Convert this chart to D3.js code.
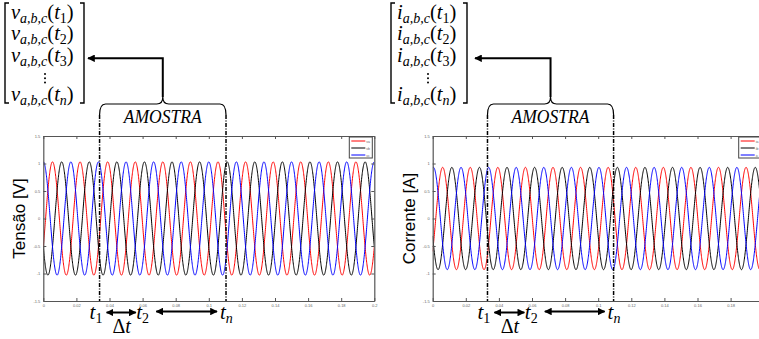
<!DOCTYPE html>
<html>
<head>
<meta charset="utf-8">
<script src="https://cdn.jsdelivr.net/npm/d3@7"></script>
<style>
  body { margin: 0; background: #fff; }
  svg { display: block; }
  .tick text { font-family: 'Liberation Sans', sans-serif; font-size: 4px; fill: #666; }
  .math { font-family: 'Liberation Serif', serif; fill: #000; }
</style>
</head>
<body>
<svg id="chart" width="759" height="339"></svg>
<script>
// values
const timeTicks = [0, 0.02, 0.04, 0.06, 0.08, 0.1, 0.12, 0.14, 0.16, 0.18, 0.2]
const valueTicks = [-1.5, -1, -0.5, 0, 0.5, 1, 1.5]
const phases = ['a', 'b', 'c']
const freqHz = 60
const voltageAmp = [1.03, 1.03, 1.03]
const voltagePhaseDeg = [-120, 120, 0]
const currentAmp = [0.93, 0.93, 0.93]
const currentPhaseDeg = [-130, 110, -10]
const voltageMarks = [0.034, 0.0604, 0.1104]   // t1, t2, tn
const currentMarks = [0.0331, 0.0599, 0.1093]
const matrixRows = ['1', '2', '3', null, 'n']

const svg = d3.select('#chart')
const W = 759
const plotTop = 136, plotBottom = 301, plotW = 331
const colors = ['#ff0000', '#000000', '#0000ff']

const defs = svg.append('defs')
defs.append('marker')
  .attr('id', 'head')
  .attr('viewBox', '0 0 10 10')
  .attr('refX', 9).attr('refY', 5)
  .attr('markerWidth', 3.8).attr('markerHeight', 3.8)
  .attr('markerUnits', 'strokeWidth')
  .attr('orient', 'auto-start-reverse')
  .append('path').attr('d', 'M0,0 L10,5 L0,10 z').attr('fill', '#000')

function subText(sel, x, y, parts) {
  // parts: [text, size, italic, dy]
  const t = sel.append('text').attr('class', 'math').attr('x', x).attr('y', y)
  parts.forEach(p => {
    t.append('tspan')
      .attr('font-size', p[1])
      .attr('font-style', p[2] ? 'italic' : 'normal')
      .attr('dy', p[3] || 0)
      .text(p[0])
  })
  return t
}

function drawPanel(p) {
  const x = d3.scaleLinear().domain([0, 0.2]).range([p.left, p.left + plotW])
  const y = d3.scaleLinear().domain([-1.5, 1.5]).range([plotBottom, plotTop])
  const g = svg.append('g')

  defs.append('clipPath').attr('id', 'clip-' + p.symbol)
    .append('rect')
    .attr('x', p.left).attr('y', plotTop)
    .attr('width', plotW).attr('height', plotBottom - plotTop)

  // waveforms
  const samples = d3.range(0, 2001).map(i => i * 0.0001)
  const line = d3.line().x(d => x(d[0])).y(d => y(d[1]))
  phases.forEach((ph, k) => {
    const pts = samples.map(t => [t, p.amp[k] * Math.cos(2 * Math.PI * freqHz * t + p.phase[k] * Math.PI / 180)])
    g.append('path')
      .datum(pts)
      .attr('clip-path', `url(#clip-${p.symbol})`)
      .attr('fill', 'none')
      .attr('stroke', colors[k])
      .attr('stroke-width', 1)
      .attr('d', line)
  })

  // axes, matlab style with inward ticks
  const axisColor = '#555'
  const styleAxis = a => {
    a.select('.domain').attr('stroke', axisColor).attr('stroke-width', 1.2)
    a.selectAll('.tick line').attr('stroke', axisColor)
  }
  g.append('g').attr('transform', `translate(0,${plotBottom})`)
    .call(d3.axisBottom(x).tickValues(timeTicks).tickFormat(String).tickSizeInner(-3).tickSizeOuter(0).tickPadding(3))
    .call(styleAxis)
    .selectAll('.tick text').filter(d => x(d) + 4 > W).remove()
  g.append('g').attr('transform', `translate(0,${plotTop})`)
    .call(d3.axisTop(x).tickValues(timeTicks).tickFormat('').tickSizeInner(-3).tickSizeOuter(0))
    .call(styleAxis)
  g.append('g').attr('transform', `translate(${p.left},0)`)
    .call(d3.axisLeft(y).tickValues(valueTicks).tickFormat(String).tickSizeInner(-3).tickSizeOuter(0).tickPadding(3))
    .call(styleAxis)
  g.append('g').attr('transform', `translate(${p.left + plotW},0)`)
    .call(d3.axisRight(y).tickValues(valueTicks).tickFormat('').tickSizeInner(-3).tickSizeOuter(0))
    .call(styleAxis)

  // legend
  const lx = p.left + 306, ly = plotTop + 1
  const lg = g.append('g')
  lg.append('rect').attr('x', lx).attr('y', ly).attr('width', 23).attr('height', 21)
    .attr('fill', '#fff').attr('stroke', '#444').attr('stroke-width', 1)
  phases.forEach((ph, k) => {
    const yy = ly + 4 + k * 7
    lg.append('line').attr('x1', lx + 2).attr('x2', lx + 16).attr('y1', yy).attr('y2', yy)
      .attr('stroke', colors[k]).attr('stroke-width', 1)
    if (lx + 20 < W) {
      lg.append('text').attr('x', lx + 17).attr('y', yy + 1.5)
        .attr('font-family', 'Liberation Sans, sans-serif').attr('font-size', 3.5).attr('fill', '#666')
        .text(p.symbol + ph)
    }
  })

  // y label
  g.append('text')
    .attr('transform', `translate(${p.left - 18},${(plotTop + plotBottom) / 2}) rotate(-90)`)
    .attr('text-anchor', 'middle')
    .attr('font-family', 'Liberation Sans, sans-serif')
    .attr('font-size', 17)
    .text(p.ylabel)

  // sample window: dash-dot lines and brace
  const x0 = x(p.marks[0]), x2 = x(p.marks[2]), xm = (x0 + x2) / 2
  const yb = 104, ye = 115, yt = 97
  ;[x0, x2].forEach(xx => {
    g.append('line').attr('x1', xx).attr('x2', xx).attr('y1', ye).attr('y2', plotBottom)
      .attr('stroke', '#000').attr('stroke-width', 1.5).attr('stroke-dasharray', '4,1.5,1,1.5')
  })
  g.append('path')
    .attr('d', `M${x0},${ye} Q${x0},${yb} ${x0 + 6},${yb} L${xm - 6},${yb} Q${xm},${yb} ${xm},${yt} ` +
               `Q${xm},${yb} ${xm + 6},${yb} L${x2 - 6},${yb} Q${x2},${yb} ${x2},${ye}`)
    .attr('fill', 'none').attr('stroke', '#000').attr('stroke-width', 1.2)
  g.append('text').attr('class', 'math')
    .attr('x', xm).attr('y', 123)
    .attr('text-anchor', 'middle')
    .attr('font-style', 'italic').attr('font-size', 19)
    .attr('textLength', 78).attr('lengthAdjust', 'spacingAndGlyphs')
    .text('AMOSTRA')

  // arrow from brace to matrix
  g.append('path')
    .attr('d', `M${xm},${yt} L${xm},58.3 L${p.arrowTip},58.3`)
    .attr('fill', 'none').attr('stroke', '#000').attr('stroke-width', 2)
    .attr('marker-end', 'url(#head)')

  // column vector
  const mx = p.matrixX, mw = p.matrixW
  g.append('path')
    .attr('d', `M${mx + 4},3 L${mx},3 L${mx},103 L${mx + 4},103 M${mx + mw - 4},3 L${mx + mw},3 L${mx + mw},103 L${mx + mw - 4},103`)
    .attr('fill', 'none').attr('stroke', '#000').attr('stroke-width', 1.4)
  const baselines = [18.5, 40, 62, 0, 101]
  matrixRows.forEach((r, i) => {
    if (r === null) {
      ;[74, 78.3, 82.6].forEach(cy => {
        g.append('circle').attr('cx', p.dotsX).attr('cy', cy).attr('r', 1)
      })
      return
    }
    subText(g, mx + 6, baselines[i], [
      [p.symbol, 20.5, true],
      ['a,b,c', 14, true, 4],
      ['(', 20.5, false, -4],
      ['t', 20.5, true],
      [r, 14, r === 'n', 4],
      [')', 20.5, false, -4]
    ])
  })

  // time marks under the axis
  const xt1 = x(p.marks[0]), xt2 = x(p.marks[1]), xtn = x(p.marks[2])
  const tLabel = (cx, idx) => {
    subText(g, cx - 7, 319, [['t', 21, true], [idx, 14, idx === 'n', 4]])
  }
  tLabel(xt1 - 3, '1')
  tLabel(xt2, '2')
  tLabel(xtn + 1, 'n')
  const dbl = (a, b, yy) => {
    g.append('line').attr('x1', a).attr('x2', b).attr('y1', yy).attr('y2', yy)
      .attr('stroke', '#000').attr('stroke-width', 2)
      .attr('marker-start', 'url(#head)').attr('marker-end', 'url(#head)')
  }
  dbl(xt1 + 7, xt2 - 7.5, 312.5)
  dbl(xt2 + 13, xtn - 9, 311.5)
  subText(g, (xt1 + xt2) / 2 - 9, 333, [['Δ', 20, false], ['t', 20, true]])
}

drawPanel({
  left: 43.3, symbol: 'v', ylabel: 'Tensão [V]',
  amp: voltageAmp, phase: voltagePhaseDeg, marks: voltageMarks,
  matrixX: 5, matrixW: 79, dotsX: 45, arrowTip: 88
})
drawPanel({
  left: 432.7, symbol: 'i', ylabel: 'Corrente [A]',
  amp: currentAmp, phase: currentPhaseDeg, marks: currentMarks,
  matrixX: 391, matrixW: 76, dotsX: 428, arrowTip: 475
})
</script>
</body>
</html>
